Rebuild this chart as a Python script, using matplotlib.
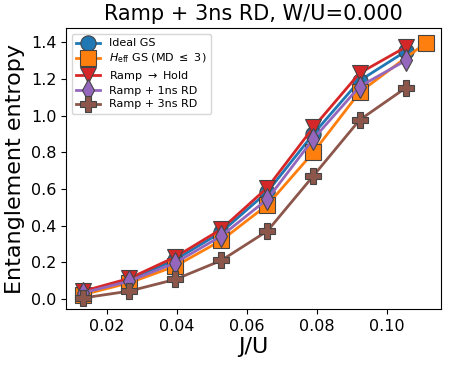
import matplotlib
matplotlib.use("Agg")
import matplotlib.pyplot as plt
import numpy as np

# J/U grid
j_u = [0.0132, 0.0263, 0.0395, 0.0526, 0.0658, 0.0789, 0.0921, 0.1053]
j_u_eff = [0.0132, 0.0263, 0.0395, 0.0526, 0.0658, 0.0789, 0.0921, 0.1111]

ideal_gs = [0.035, 0.105, 0.215, 0.365, 0.585, 0.90, 1.19, 1.35]
heff_gs = [0.025, 0.089, 0.180, 0.320, 0.514, 0.80, 1.127, 1.397]
ramp_hold = [0.044, 0.113, 0.230, 0.381, 0.608, 0.936, 1.231, 1.373]
ramp_1ns = [0.035, 0.098, 0.198, 0.344, 0.545, 0.873, 1.158, 1.30]
ramp_3ns = [0.007, 0.044, 0.108, 0.211, 0.372, 0.672, 0.976, 1.151]

series = [
    (j_u, ideal_gs, 'o', 'C0', 'Ideal GS'),
    (j_u_eff, heff_gs, 's', 'C1', r'$H_{\rm eff}$ GS (MD $\leq$ 3)'),
    (j_u, ramp_hold, 'v', 'C3', r'Ramp $\rightarrow$ Hold'),
    (j_u, ramp_1ns, 'd', 'C4', 'Ramp + 1ns RD'),
    (j_u, ramp_3ns, 'P', 'C5', 'Ramp + 3ns RD'),
]

fig = plt.figure(figsize=(4.49, 3.65), dpi=100)
ax = fig.add_axes([0.147, 0.153, 0.835, 0.769])

for x, y, m, c, lab in series:
    ax.plot(x, y, marker=m, color=c, lw=2, ms=11, mec='#444444', mew=0.8, label=lab)

ax.set_xlim(0.0083, 0.1153)
ax.set_ylim(-0.054, 1.474)
ax.set_xticks([0.02, 0.04, 0.06, 0.08, 0.10])
ax.set_yticks(np.arange(0, 1.41, 0.2))
ax.tick_params(labelsize=11.5)
ax.set_xlabel('J/U', fontsize=16, labelpad=2)
ax.set_ylabel('Entanglement entropy', fontsize=16)
ax.set_title('Ramp + 3ns RD, W/U=0.000', fontsize=15)
ax.legend(loc='upper left', fontsize=8, handlelength=2.2, labelspacing=0.3)

fig.savefig('out.png', dpi=100)
